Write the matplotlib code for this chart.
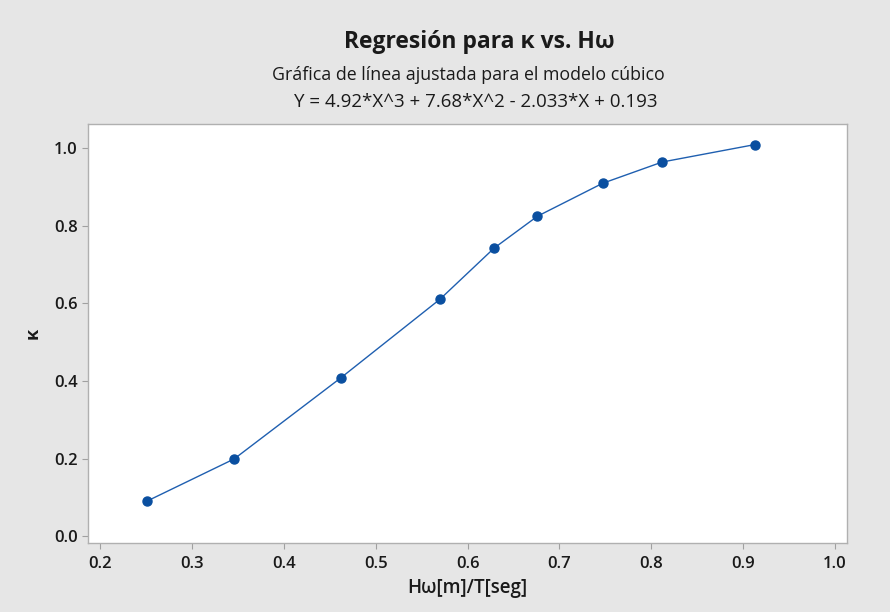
import numpy as np
import matplotlib
matplotlib.use('Agg')
import matplotlib.pyplot as plt

# Datos
h_omega = [0.251, 0.346, 0.462, 0.570, 0.629, 0.676, 0.747, 0.812, 0.913]
kappa = [0.090, 0.199, 0.408, 0.611, 0.743, 0.825, 0.910, 0.965, 1.010]

xticks = [0.2, 0.3, 0.4, 0.5, 0.6, 0.7, 0.8, 0.9, 1.0]
yticks = [0.0, 0.2, 0.4, 0.6, 0.8, 1.0]

plt.rcParams['font.family'] = ['Open Sans', 'DejaVu Sans']

fig = plt.figure(figsize=(8.9, 6.12), dpi=100, facecolor='#e6e6e6')
ax = fig.add_axes([0.0989, 0.1127, 0.8528, 0.6847])
ax.set_facecolor('white')

ax.plot(h_omega, kappa, color='#1f5fb0', linewidth=1.0,
        marker='o', markersize=6.5, markerfacecolor='#0a4fa0',
        markeredgecolor='#0a4fa0')

ax.set_xlim(0.1869, 1.013)
ax.set_ylim(-0.018, 1.063)
ax.set_xticks(xticks)
ax.set_yticks(yticks)
ax.set_xticklabels([f'{v:.1f}' for v in xticks])
ax.set_yticklabels([f'{v:.1f}' for v in yticks])

for s in ax.spines.values():
    s.set_color('#b0b0b0')
    s.set_linewidth(1.0)
ax.tick_params(direction='out', length=4, color='#a0a0a0',
               labelsize=12, labelcolor='#1a1a1a')
ax.tick_params(axis='x', pad=5)
for lab in ax.get_xticklabels() + ax.get_yticklabels():
    lab.set_fontweight('semibold')

ax.set_xlabel('Hω[m]/T[seg]', fontsize=13.5, fontweight='semibold',
              color='#1a1a1a', labelpad=5)
ax.set_ylabel('κ', fontsize=13, fontweight='bold', color='#1a1a1a',
              labelpad=9)

fig.text(0.539, 0.931, 'Regresión para κ vs. Hω', ha='center', va='center',
         fontsize=16.5, fontweight='bold', color='#1a1a1a')
fig.text(0.526, 0.878, 'Gráfica de línea ajustada para el modelo cúbico',
         ha='center', va='center', fontsize=12.8, color='#1a1a1a')
fig.text(0.534, 0.834, 'Y = 4.92*X^3 + 7.68*X^2 - 2.033*X + 0.193',
         ha='center', va='center', fontsize=13.5, color='#1a1a1a')

fig.savefig('out.png', dpi=100, facecolor=fig.get_facecolor())
